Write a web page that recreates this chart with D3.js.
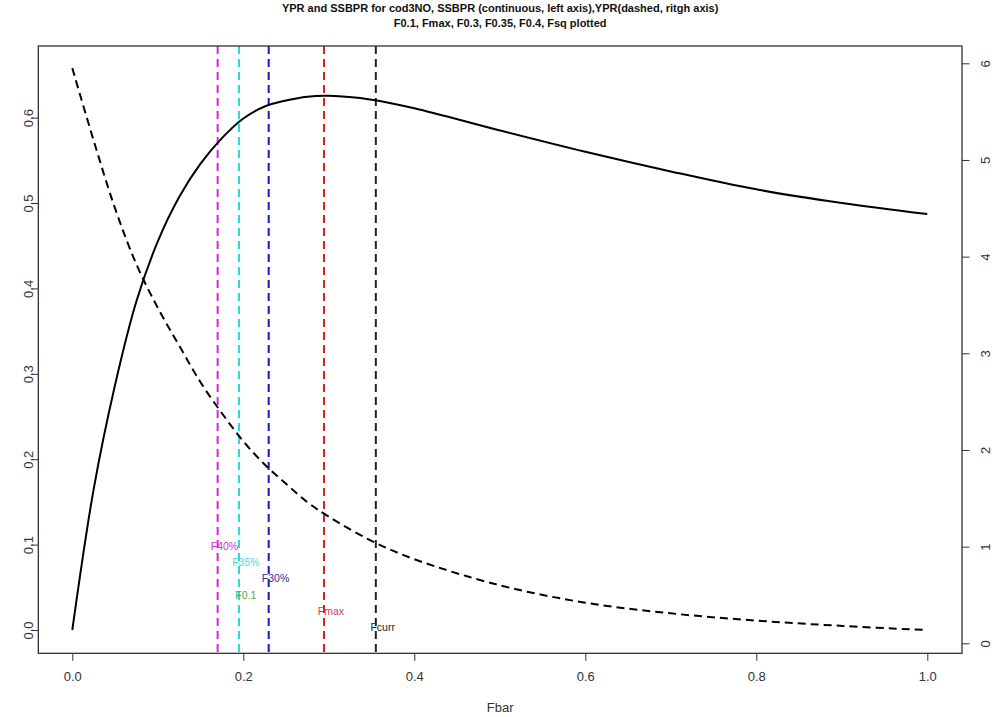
<!DOCTYPE html>
<html>
<head>
<meta charset="utf-8">
<script src="https://cdn.jsdelivr.net/npm/d3@7"></script>
<style>
  body { margin: 0; background: #fff; }
  svg { display: block; font-family: "Liberation Sans", Arial, sans-serif; }
  .tick line { stroke: #333; }
  .tick text { fill: #333; font-size: 13px; }
</style>
</head>
<body>
<div id="chart"></div>
<script>
// Fbar grid and curves
const fbar  = [0, 0.025, 0.05, 0.075, 0.1, 0.125, 0.15, 0.175, 0.2, 0.225, 0.25, 0.275, 0.3, 0.35, 0.4, 0.5, 0.6, 0.7, 0.8, 0.9, 1.0];
// SSBPR - continuous, left axis
const ssbpr = [0, 0.165, 0.287, 0.385, 0.455, 0.507, 0.546, 0.576, 0.599, 0.613, 0.620, 0.6245, 0.6255, 0.621, 0.611, 0.585, 0.560, 0.537, 0.516, 0.500, 0.487];
// YPR - dashed, right axis
const ypr   = [5.95, 5.2, 4.5, 3.92, 3.47, 3.08, 2.70, 2.38, 2.09, 1.85, 1.65, 1.46, 1.31, 1.06, 0.87, 0.60, 0.42, 0.31, 0.235, 0.18, 0.137];

// reference points (vertical lines + labels)
const refNames  = ['F0.1', 'F40%', 'F35%', 'F30%', 'Fmax', 'Fcurr'];
const refF      = [0.195, 0.170, 0.195, 0.2297, 0.2944, 0.355];
const refLabelY = [0.041, 0.098, 0.079, 0.060, 0.022, 0.003];
const refLine   = ['#3cb43c', '#dd22dd', '#22dddd', '#1515cc', '#dd1f1f', '#222222'];
const refText   = ['#40b040', '#cc33cc', '#44dddd', '#3030a0', '#d84040', '#222222'];

const xTicks = [0, 0.2, 0.4, 0.6, 0.8, 1.0];
const yLeftTicks = [0, 0.1, 0.2, 0.3, 0.4, 0.5, 0.6];
const yRightTicks = [0, 1, 2, 3, 4, 5, 6];

const titleLines = [
    'YPR and SSBPR for cod3NO, SSBPR (continuous, left axis),YPR(dashed, ritgh axis)',
    'F0.1, Fmax, F0.3, F0.35, F0.4, Fsq plotted'
];

function drawChart() {
    const W = 992, H = 717;
    const box = { left: 38.3, right: 962, top: 46, bottom: 653.3 };

    const svg = d3.select('#chart').append('svg')
        .attr('width', W)
        .attr('height', H);

    // Scales (R style 4% padding around data range)
    const x = d3.scaleLinear().domain([0, 1]).range([72.3, 927.3]);
    const yL = d3.scaleLinear().domain([0, 0.6]).range([630, 117.6]);
    const yR = d3.scaleLinear().domain([0, 6]).range([643.3, 63.3]);

    svg.append('clipPath').attr('id', 'plot-clip')
        .append('rect')
        .attr('x', box.left).attr('y', box.top)
        .attr('width', box.right - box.left)
        .attr('height', box.bottom - box.top);

    const plot = svg.append('g').attr('clip-path', 'url(#plot-clip)');

    // Reference vertical lines
    refF.forEach((f, i) => {
        plot.append('line')
            .attr('x1', x(f)).attr('x2', x(f))
            .attr('y1', box.top).attr('y2', box.bottom)
            .attr('stroke', refLine[i])
            .attr('stroke-width', 2)
            .attr('stroke-dasharray', '8,5');
    });

    const pts = fbar.map((f, i) => ({ f: f, s: ssbpr[i], y: ypr[i] }));

    // SSBPR solid curve
    plot.append('path')
        .datum(pts)
        .attr('fill', 'none')
        .attr('stroke', '#000')
        .attr('stroke-width', 2)
        .attr('d', d3.line().x(d => x(d.f)).y(d => yL(d.s)).curve(d3.curveCatmullRom.alpha(0.5)));

    // YPR dashed curve
    plot.append('path')
        .datum(pts)
        .attr('fill', 'none')
        .attr('stroke', '#000')
        .attr('stroke-width', 2)
        .attr('stroke-dasharray', '8,5')
        .attr('d', d3.line().x(d => x(d.f)).y(d => yR(d.y)).curve(d3.curveCatmullRom.alpha(0.5)));

    // Reference labels, just right of each line
    refF.forEach((f, i) => {
        svg.append('text')
            .attr('x', x(f + 0.008))
            .attr('y', yL(refLabelY[i]))
            .attr('dy', '0.35em')
            .attr('text-anchor', 'middle')
            .attr('font-size', '10.5px')
            .attr('fill', refText[i])
            .text(refNames[i]);
    });

    // Box
    svg.append('rect')
        .attr('x', box.left).attr('y', box.top)
        .attr('width', box.right - box.left)
        .attr('height', box.bottom - box.top)
        .attr('fill', 'none')
        .attr('stroke', '#222')
        .attr('stroke-width', 1.2);

    // Bottom axis
    const gx = svg.append('g')
        .attr('transform', `translate(0,${box.bottom})`)
        .call(d3.axisBottom(x).tickValues(xTicks).tickSize(7.5).tickFormat(d3.format('.1f')));
    gx.select('.domain').remove();
    gx.selectAll('text').attr('y', 28).attr('dy', 0);

    // Left axis - labels rotated like R
    const gl = svg.append('g')
        .attr('transform', `translate(${box.left},0)`)
        .call(d3.axisLeft(yL).tickValues(yLeftTicks).tickSize(7.5).tickFormat(d3.format('.1f')));
    gl.select('.domain').remove();
    gl.selectAll('text')
        .attr('transform', 'rotate(-90)')
        .attr('x', 0).attr('y', -5.5).attr('dy', 0)
        .attr('text-anchor', 'middle');

    // Right axis
    const gr = svg.append('g')
        .attr('transform', `translate(${box.right},0)`)
        .call(d3.axisRight(yR).tickValues(yRightTicks).tickSize(7.5).tickFormat(d3.format('d')));
    gr.select('.domain').remove();
    gr.selectAll('text')
        .attr('transform', 'rotate(-90)')
        .attr('x', 0).attr('y', 28).attr('dy', 0)
        .attr('text-anchor', 'middle');

    // X label
    svg.append('text')
        .attr('x', (box.left + box.right) / 2)
        .attr('y', 712)
        .attr('text-anchor', 'middle')
        .attr('font-size', '13px')
        .attr('fill', '#333')
        .text('Fbar');

    // Title
    titleLines.forEach((t, i) => {
        svg.append('text')
            .attr('x', (box.left + box.right) / 2)
            .attr('y', 11.5 + i * 15.8)
            .attr('text-anchor', 'middle')
            .attr('font-size', '11px')
            .attr('font-weight', 'bold')
            .attr('fill', '#111')
            .text(t);
    });
}

drawChart();
</script>
</body>
</html>
